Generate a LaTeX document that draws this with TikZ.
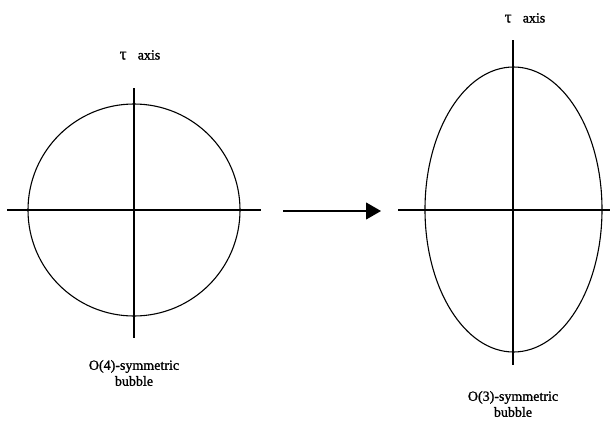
\documentclass[tikz,border=0pt]{standalone}
\usepackage{fontspec}
\setmainfont{Liberation Serif}
\newfontfamily\lblfont[FakeBold=1.2]{Liberation Serif}
\usetikzlibrary{arrows.meta}
\begin{document}
\begin{tikzpicture}[x=1pt,y=-1pt,
  ln/.style={line width=1.1pt,black},
  lbl/.style={font=\lblfont\fontsize{14}{16}\selectfont, align=center, inner sep=0pt}]
\useasboundingbox (0,0) rectangle (611,426);
% left
\coordinate (lc) at (134,210);
\draw[ln] (lc) circle (106);
\coordinate (lL) at (7,210); \coordinate (lR) at (261,210);
\coordinate (lT) at (134,88); \coordinate (lB) at (134,338);
\draw[ln] (lL) -- (lR);
\draw[ln] (lT) -- (lB);
\node[lbl] (tl) at (140,55) {{\fontsize{17}{16}\selectfont τ}\hspace{0.8em}axis};
\node[lbl] (bl) at (134,373) {O(4)-symmetric\\bubble};
% arrow
\coordinate (a1) at (283,211); \coordinate (a2) at (381,211);
\draw[ln,-{Triangle[length=15pt,width=17pt]}] (a1) -- (a2);
% right
\coordinate (rc) at (513.5,209.5);
\draw[ln] (rc) ellipse [x radius=88.5, y radius=142.5];
\coordinate (rL) at (398,210); \coordinate (rR) at (610,210);
\coordinate (rT) at (513,40); \coordinate (rB) at (513,365);
\draw[ln] (rL) -- (rR);
\draw[ln] (rT) -- (rB);
\node[lbl] (tr) at (525,18) {{\fontsize{17}{16}\selectfont τ}\hspace{0.8em}axis};
\node[lbl] (br) at (513,404) {O(3)-symmetric\\bubble};
\end{tikzpicture}
\end{document}
